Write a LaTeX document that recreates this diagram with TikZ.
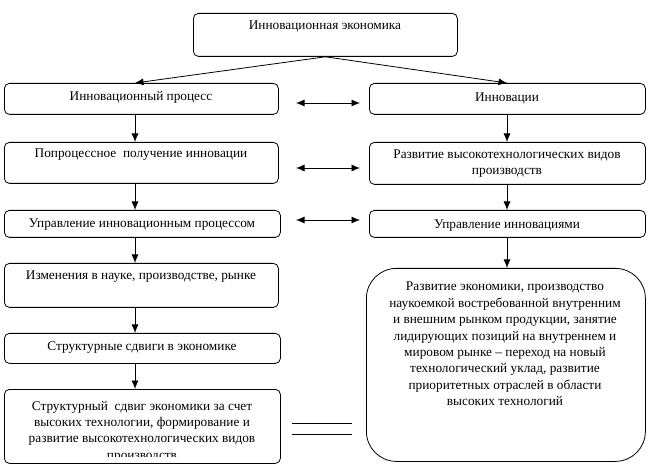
\documentclass[tikz,border=0pt]{standalone}
\usepackage{fontspec}
\setmainfont{Liberation Serif}
\usetikzlibrary{arrows.meta}
\begin{document}
\begin{tikzpicture}[x=1pt,y=-1pt,
 box/.style={draw, line width=0.8pt, rounded corners=5pt, inner sep=0pt, anchor=north west},
 txt/.style={font=\fontsize{13.3}{16.4}\selectfont, align=center, inner sep=0pt},
 arr/.style={-{Latex[length=8.5pt,width=7pt]}, line width=0.8pt},
 darr/.style={{Latex[length=8.5pt,width=7pt]}-{Latex[length=8.5pt,width=7pt]}, line width=0.8pt},
 eqline/.style={line width=0.8pt},
]
\useasboundingbox (0,0) rectangle (649,468);
% boxes
\node[box, minimum width=264pt, minimum height=43pt] (T) at (193,13) {};
\node[box, minimum width=274pt, minimum height=31pt] (L1) at (4,83) {};
\node[box, minimum width=276pt, minimum height=31pt] (R1) at (369,83) {};
\node[box, minimum width=274pt, minimum height=41pt] (L2) at (4,142) {};
\node[box, minimum width=276pt, minimum height=42pt] (R2) at (369,142) {};
\node[box, minimum width=276pt, minimum height=27pt] (L3) at (4,210) {};
\node[box, minimum width=276pt, minimum height=27pt] (R3) at (369,210) {};
\node[box, minimum width=274pt, minimum height=44pt] (L4) at (4,263) {};
\node[box, minimum width=276pt, minimum height=30pt] (L5) at (4,333) {};
\node[box, minimum width=276pt, minimum height=74pt] (L6) at (4,389) {};
\node[box, rounded corners=30pt, minimum width=279pt, minimum height=193pt] (B) at (366,268) {};
% texts
\node[txt] (tT) at (325,26) {Инновационная экономика};
\node[txt] (tL1) at (141,97) {Инновационный процесс};
\node[txt] (tR1) at (507,98) {Инновации};
\node[txt] (tL2) at (141,155) {Попроцессное\ \ получение инновации};
\node[txt] (tR2) at (507,163.5) {Развитие высокотехнологических видов\\производств};
\node[txt] (tL3) at (142,225) {Управление инновационным процессом};
\node[txt] (tR3) at (507,226) {Управление инновациями};
\node[txt] (tL4) at (141,277) {Изменения в науке, производстве, рынке};
\node[txt] (tL5) at (142,348) {Структурные сдвиги в экономике};
\begin{scope}
\clip (4,389) rectangle (280,456.5);
\node[txt] (tL6) at (142,431.5) {Структурный\ \ сдвиг экономики за счет\\высоких технологии, формирование и\\развитие высокотехнологических видов\\производств};
\end{scope}
\node[txt] (tB) at (505,344) {Развитие экономики, производство\\наукоемкой востребованной внутренним\\и внешним рынком продукции, занятие\\лидирующих позиций на внутреннем и\\мировом рынке – переход на новый\\технологический уклад, развитие\\приоритетных отраслей в области\\высоких технологий};
% guide coordinates
\coordinate (lx) at (135,0);
\coordinate (rx) at (507,0);
% top arrows
\draw[arr] (T.south) -- (L1.north -| lx);
\draw[arr] (T.south) -- (R1.north -| rx);
% vertical arrows
\draw[arr] (L1.south -| lx) -- (L2.north -| lx);
\draw[arr] (L2.south -| lx) -- (L3.north -| lx);
\draw[arr] (L3.south -| lx) -- (L4.north -| lx);
\draw[arr] (L4.south -| lx) -- (L5.north -| lx);
\draw[arr] (L5.south -| lx) -- (L6.north -| lx);
\draw[arr] (R1.south -| rx) -- (R2.north -| rx);
\draw[arr] (R2.south -| rx) -- (R3.north -| rx);
\draw[arr] (R3.south -| rx) -- (B.north -| rx);
% double arrows
\coordinate (d1a) at (296,103); \coordinate (d1b) at (360,103);
\coordinate (d2a) at (296,168); \coordinate (d2b) at (360,168);
\coordinate (d3a) at (296,220); \coordinate (d3b) at (360,220);
\draw[darr] (d1a) -- (d1b);
\draw[darr] (d2a) -- (d2b);
\draw[darr] (d3a) -- (d3b);
% equals sign
\coordinate (e1a) at (292,423); \coordinate (e1b) at (352,423);
\coordinate (e2a) at (292,434); \coordinate (e2b) at (352,434);
\draw[eqline] (e1a) -- (e1b);
\draw[eqline] (e2a) -- (e2b);
\end{tikzpicture}
\end{document}
